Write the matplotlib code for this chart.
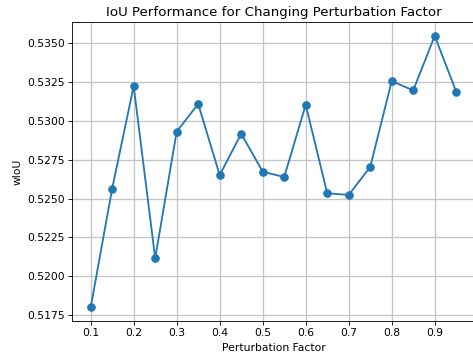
import matplotlib
matplotlib.use("Agg")
import matplotlib.pyplot as plt
from matplotlib.ticker import MultipleLocator

# perturbation factors and resulting wIoU
factores = [0.10, 0.15, 0.20, 0.25, 0.30, 0.35, 0.40, 0.45, 0.50,
            0.55, 0.60, 0.65, 0.70, 0.75, 0.80, 0.85, 0.90, 0.95]
wiou = [0.51799, 0.52564, 0.53224, 0.52115, 0.52931, 0.53109, 0.52651, 0.52917, 0.52673,
        0.52638, 0.53104, 0.52534, 0.52523, 0.52703, 0.53256, 0.53196, 0.53547, 0.53188]

dpi = 77
fig = plt.figure(figsize=(473 / dpi, 361 / dpi), dpi=dpi)
ax = fig.add_axes([72.4 / 473, 1 - 321 / 361, (474.5 - 72.4) / 473, (321 - 22.3) / 361])

ax.plot(factores, wiou, marker="o", markersize=7, linewidth=1.7, color="#1f77b4")
ax.xaxis.set_major_locator(MultipleLocator(0.1))
ax.grid(True, linewidth=1.2, color="#c4c4c4")

ax.set_title("IoU Performance for Changing Perturbation Factor", fontsize=12.5)
ax.set_xlabel("Perturbation Factor")
ax.set_ylabel("wIoU")

fig.savefig("out.png", dpi=dpi)
